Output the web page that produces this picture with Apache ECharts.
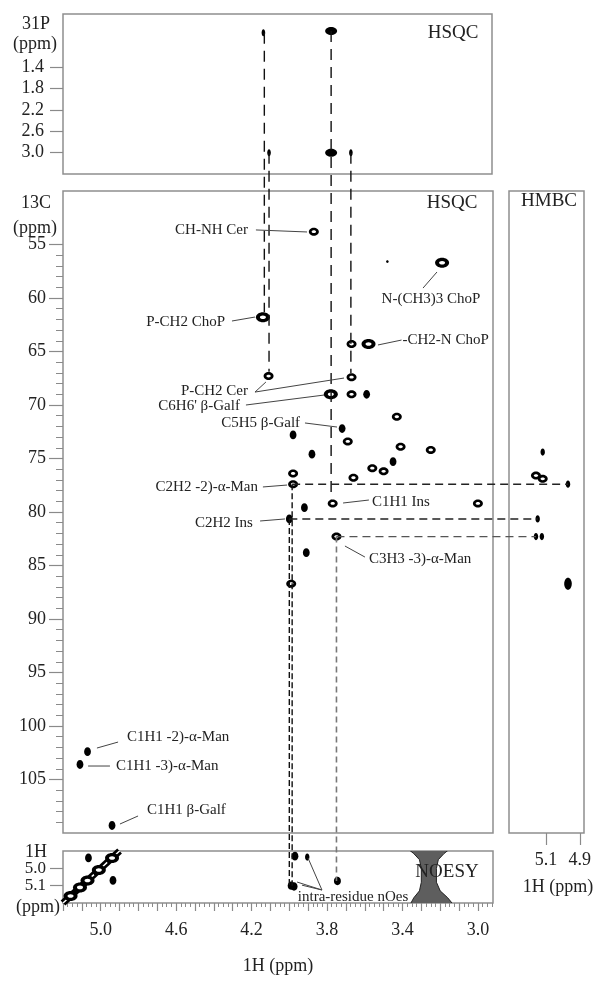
<!DOCTYPE html>
<html><head><meta charset="utf-8">
<script src="https://cdn.jsdelivr.net/npm/echarts@6/dist/echarts.min.js"></script>
<style>html,body{margin:0;padding:0;background:#fff}#c{width:593px;height:984px}</style>
</head><body><div id="c"></div>
<script>
// ---------------- DATA ----------------
const xTickLabels = [5.0, 4.6, 4.2, 3.8, 3.4, 3.0];
const pTickLabels = [1.4, 1.8, 2.2, 2.6, 3.0];
const cTickLabels = [55, 60, 65, 70, 75, 80, 85, 90, 95, 100, 105];
const noesyTickLabels = [5.0, 5.1];
const hmbcTickLabels = [5.1, 4.9];

// 31P HSQC peaks [1H, 31P]
const pPeaks = [[4.135, 0.75], [4.105, 3.0], [3.775, 0.72], [3.775, 3.0], [3.67, 3.0]];
// 13C HSQC peaks [1H, 13C]
const hsqcPeaks = [
  [3.87, 53.8], [3.19, 56.7], [3.48, 56.6], [4.14, 61.8], [3.67, 64.3], [3.58, 64.3],
  [4.11, 67.3], [3.67, 67.4], [3.78, 69.0], [3.67, 69.0], [3.59, 69.0], [3.43, 71.1],
  [3.72, 72.2], [3.98, 72.8], [3.69, 73.4], [3.88, 74.6], [3.41, 73.9], [3.25, 74.2],
  [3.56, 75.9], [3.50, 76.2], [3.45, 75.3], [3.66, 76.8], [3.98, 76.4], [3.98, 77.4],
  [3.92, 79.6], [3.77, 79.2], [3.00, 79.2], [4.00, 80.65], [3.75, 82.3], [3.91, 83.8],
  [3.99, 86.7], [5.07, 102.4], [5.11, 103.6], [4.94, 109.3]
];
// HMBC peaks [1H, 13C]
const hmbcPeaks = [[5.12, 74.4], [5.16, 76.6], [5.12, 76.9], [4.97, 77.4], [5.15, 80.65], [5.16, 82.3], [5.125, 82.3], [4.97, 86.7]];
// NOESY [1H, 1H]
const noesyDiagonal = [[5.2, 5.2], [4.9, 4.9]];
const noesyDiagPeaks = [[5.16, 5.16], [5.11, 5.11], [5.07, 5.07], [5.01, 5.01], [4.94, 4.94]];
const noesyCross = [[5.065, 4.94], [4.935, 5.07], [3.97, 4.93], [3.905, 4.935], [3.99, 5.10], [3.975, 5.105], [3.745, 5.073]];
const noesyNoise = [
  [3.38, 4.88], [3.34, 4.915], [3.31, 4.95], [3.30, 5.0], [3.30, 5.08], [3.31, 5.13], [3.34, 5.17], [3.36, 5.21],
  [3.13, 5.21], [3.16, 5.17], [3.20, 5.13], [3.22, 5.08], [3.22, 5.0], [3.21, 4.95], [3.18, 4.915], [3.14, 4.88]
];

// ---------------- STYLE ----------------
const FONT = '"Liberation Serif", "DejaVu Serif", serif';
const TICK = '#8a8a8a';
const BORDER = '#8e8e8e';
const pStyle = ['m', 'm', 'w', 'w', 'm'];
const hsqcStyle = ['r','b','t','b','r','b','r','r','b','r','d','r','d','d','r','d','r','r','r','r','d','r','r','r','d','r','r','d','r','d','r','d','d','d'];
const hmbcStyle = ['s','r','r','s','s','s','s','D'];
const crossStyle = ['d','d','d','s','q','q','q'];
const SHAPES = {
  r: {rx: 5, ry: 4, hole: [2.2, 1.4]},
  b: {rx: 7, ry: 5, hole: [3, 1.8]},
  d: {rx: 3.4, ry: 4.4},
  D: {rx: 3.8, ry: 6},
  w: {rx: 6, ry: 4},
  m: {rx: 1.8, ry: 3.5},
  s: {rx: 2.2, ry: 3.6},
  q: {rx: 3.5, ry: 4.2},
  t: {rx: 1.3, ry: 1.3}
};

function peakRenderer(styles) {
  return function (params, api) {
    const c = api.coord([api.value(0), api.value(1)]);
    const S = SHAPES[styles[params.dataIndex]] || SHAPES.r;
    const ch = [{type: 'ellipse', shape: {cx: c[0], cy: c[1], rx: S.rx, ry: S.ry}, style: {fill: '#000'}}];
    if (S.hole) ch.push({type: 'ellipse', shape: {cx: c[0], cy: c[1], rx: S.hole[0], ry: S.hole[1]}, style: {fill: '#fff'}});
    return {type: 'group', children: ch};
  };
}

const labelStyle = {fontFamily: FONT, fontSize: 18, color: '#222', hideOverlap: false};
const fmt1 = v => Number(v).toFixed(1);

// tick positions (axis decoration)
const majorX = []; for (let k = 30; k <= 52; k++) majorX.push(k / 10);
const minorX = []; for (let k = 117; k <= 208; k++) minorX.push(k * 0.025);
const minorC = []; for (let k = 55; k <= 109; k++) minorC.push(k);

const chart = echarts.init(document.getElementById('c'), null, {renderer: 'canvas', width: 593, height: 984});

const gridBase = {show: true, borderColor: BORDER, borderWidth: 1.5, backgroundColor: 'transparent', containLabel: false, outerBoundsMode: 'none'};
const option = {
  animation: false,
  backgroundColor: '#fff',
  grid: [
    Object.assign({left: 63, top: 14, width: 429, height: 160}, gridBase),
    Object.assign({left: 63, top: 191, width: 430, height: 642}, gridBase),
    Object.assign({left: 509, top: 191, width: 75, height: 642}, gridBase),
    Object.assign({left: 63, top: 851, width: 430, height: 52}, gridBase)
  ],
  xAxis: [
    {gridIndex: 0, type: 'value', min: 2.92, max: 5.2, inverse: true, show: false},
    {gridIndex: 1, type: 'value', min: 2.92, max: 5.2, inverse: true, show: false},
    {gridIndex: 2, type: 'value', min: 4.875, max: 5.32, inverse: true, position: 'bottom',
      axisLine: {show: false}, splitLine: {show: false},
      axisTick: {show: true, length: 12, customValues: hmbcTickLabels, lineStyle: {color: TICK, width: 1.2}},
      axisLabel: Object.assign({show: true, customValues: hmbcTickLabels, formatter: fmt1, margin: 18, showMinLabel: true, showMaxLabel: true}, labelStyle)},
    {gridIndex: 3, type: 'value', min: 2.92, max: 5.2, inverse: true, position: 'bottom',
      axisLine: {show: false}, splitLine: {show: false},
      axisTick: {show: true, length: 8, customValues: majorX, lineStyle: {color: TICK, width: 1.2}},
      axisLabel: Object.assign({show: true, customValues: xTickLabels, formatter: fmt1, margin: 18}, labelStyle)},
    {gridIndex: 3, type: 'value', min: 2.92, max: 5.2, inverse: true, position: 'bottom', offset: 0,
      axisLine: {show: false}, splitLine: {show: false}, axisLabel: {show: false},
      axisTick: {show: true, length: 4, customValues: minorX, lineStyle: {color: TICK, width: 1}}}
  ],
  yAxis: [
    {gridIndex: 0, type: 'value', min: 0.4, max: 3.4, inverse: true, position: 'left',
      axisLine: {show: false}, splitLine: {show: false},
      axisTick: {show: true, length: 13, customValues: pTickLabels, lineStyle: {color: TICK, width: 1.2}},
      axisLabel: Object.assign({show: true, customValues: pTickLabels, formatter: fmt1, margin: 19}, labelStyle)},
    {gridIndex: 1, type: 'value', min: 50, max: 110, inverse: true, position: 'left',
      axisLine: {show: false}, splitLine: {show: false},
      axisTick: {show: true, length: 14, customValues: cTickLabels, lineStyle: {color: TICK, width: 1.2}},
      axisLabel: Object.assign({show: true, customValues: cTickLabels, margin: 17}, labelStyle)},
    {gridIndex: 1, type: 'value', min: 50, max: 110, inverse: true, position: 'left', offset: 0,
      axisLine: {show: false}, splitLine: {show: false}, axisLabel: {show: false},
      axisTick: {show: true, length: 7, customValues: minorC, lineStyle: {color: TICK, width: 1}}},
    {gridIndex: 2, type: 'value', min: 50, max: 110, inverse: true, show: false},
    {gridIndex: 3, type: 'value', min: 4.9, max: 5.2, inverse: true, position: 'left',
      axisLine: {show: false}, splitLine: {show: false},
      axisTick: {show: true, length: 13, customValues: noesyTickLabels, lineStyle: {color: TICK, width: 1.2}},
      axisLabel: Object.assign({show: true, customValues: noesyTickLabels, formatter: fmt1, margin: 17, showMinLabel: true, showMaxLabel: true}, labelStyle, {fontSize: 17, lineHeight: 16})}
  ],
  series: [
    {type: 'custom', xAxisIndex: 0, yAxisIndex: 0, data: pPeaks, encode: {x: 0, y: 1}, renderItem: peakRenderer(pStyle), z: 5},
    {type: 'custom', xAxisIndex: 1, yAxisIndex: 1, data: hsqcPeaks, encode: {x: 0, y: 1}, renderItem: peakRenderer(hsqcStyle), z: 5},
    {type: 'custom', xAxisIndex: 2, yAxisIndex: 3, data: hmbcPeaks, encode: {x: 0, y: 1}, renderItem: peakRenderer(hmbcStyle), z: 5},
    {type: 'custom', xAxisIndex: 3, yAxisIndex: 4, data: [noesyNoise[0]], encode: {x: 0, y: 1}, clip: true, z: 2,
      renderItem: function (params, api) {
        const pts = noesyNoise.map(p => api.coord(p));
        return {type: 'polygon', shape: {points: pts}, style: {fill: '#5e5e5e', stroke: '#222', lineWidth: 1}};
      }},
    {type: 'line', xAxisIndex: 3, yAxisIndex: 4, data: noesyDiagonal, showSymbol: false, symbol: 'none', clip: true,
      lineStyle: {color: '#000', width: 7}, z: 3},
    {type: 'line', xAxisIndex: 3, yAxisIndex: 4, data: noesyDiagonal, showSymbol: false, symbol: 'none', clip: true,
      lineStyle: {color: '#fff', width: 1.5, type: [6, 3]}, z: 4},
    {type: 'custom', xAxisIndex: 3, yAxisIndex: 4, data: noesyDiagPeaks, encode: {x: 0, y: 1}, clip: true, z: 5,
      renderItem: peakRenderer(['b','b','b','b','b'])},
    {type: 'custom', xAxisIndex: 3, yAxisIndex: 4, data: noesyCross, encode: {x: 0, y: 1}, clip: true, z: 5,
      renderItem: peakRenderer(crossStyle)}
  ]
};
chart.setOption(option);

// ---------------- ANNOTATIONS ----------------
const AX = {p: {xAxisIndex: 0, yAxisIndex: 0}, c: {xAxisIndex: 1, yAxisIndex: 1}, h: {xAxisIndex: 2, yAxisIndex: 3}, n: {xAxisIndex: 3, yAxisIndex: 4}};
const toPx = (panel, x, y) => chart.convertToPixel(AX[panel], [x, y]);

const notes = [
  {panel: 'c', t: 'CH-NH Cer', at: [4.219, 53.64], a: 'right', lines: [[4.177, 53.64, 3.906, 53.83]]},
  {panel: 'c', t: 'P-CH2 ChoP', at: [4.341, 62.24], a: 'right', lines: [[4.304, 62.15, 4.182, 61.78]]},
  {panel: 'c', t: 'P-CH2 Cer', at: [4.219, 68.69], a: 'right', lines: [[4.182, 68.79, 4.124, 67.85], [4.182, 68.79, 3.710, 67.48]]},
  {panel: 'c', t: "C6H6' β-Galf", at: [4.262, 70.09], a: 'right', lines: [[4.230, 70.0, 3.816, 69.07]]},
  {panel: 'c', t: 'C5H5 β-Galf', at: [3.943, 71.68], a: 'right', lines: [[3.917, 71.68, 3.747, 72.06]]},
  {panel: 'c', t: 'N-(CH3)3 ChoP', at: [3.249, 60.09], a: 'center', lines: [[3.291, 59.07, 3.217, 57.57]]},
  {panel: 'c', t: '-CH2-N ChoP', at: [3.40, 63.93], a: 'left', lines: [[3.530, 64.39, 3.405, 63.93]]},
  {panel: 'c', t: 'C2H2 -2)-α-Man', at: [4.166, 77.66], a: 'right', lines: [[4.140, 77.66, 4.012, 77.48]]},
  {panel: 'c', t: 'C1H1 Ins', at: [3.562, 79.07], a: 'left', lines: [[3.715, 79.16, 3.578, 78.88]]},
  {panel: 'c', t: 'C2H2 Ins', at: [4.193, 81.03], a: 'right', lines: [[4.155, 80.84, 4.023, 80.65]]},
  {panel: 'c', t: 'C3H3 -3)-α-Man', at: [3.578, 84.39], a: 'left', lines: [[3.705, 83.18, 3.599, 84.21]]},
  {panel: 'c', t: 'C1H1 -2)-α-Man', at: [4.861, 101.03], a: 'left', lines: [[5.020, 102.06, 4.908, 101.50]]},
  {panel: 'c', t: 'C1H1 -3)-α-Man', at: [4.919, 103.74], a: 'left', lines: [[5.067, 103.74, 4.951, 103.74]]},
  {panel: 'c', t: 'C1H1 β-Galf', at: [4.755, 107.85], a: 'left', lines: [[4.898, 109.16, 4.802, 108.41]]},
  {panel: 'n', t: 'intra-residue nOes', at: [3.662, 5.166], a: 'center', lines: [[3.827, 5.125, 3.959, 5.079], [3.827, 5.125, 3.933, 5.097], [3.827, 5.125, 3.901, 4.94]]}
];

// dashed correlation lines
const vLinks = [
  {x: 4.13, from: ['p', 0.75], to: ['c', 61.3], s: 'long'},
  {x: 4.105, from: ['p', 3.0], to: ['c', 66.9], s: 'long'},
  {x: 3.775, from: ['p', 0.72], to: ['c', 78.8], s: 'long'},
  {x: 3.67, from: ['p', 3.0], to: ['c', 67.0], s: 'long'},
  {x: 3.75, from: ['c', 82.3], to: ['n', 5.073], s: 'grey'},
  {x: 3.985, from: ['c', 77.4], to: ['n', 5.10], s: 'short'},
  {x: 4.0, from: ['c', 80.65], to: ['n', 5.10], s: 'short'}
];
const hLinks = [
  {y: 77.4, from: ['c', 3.985], to: ['h', 4.97], s: 'h'},
  {y: 80.65, from: ['c', 4.0], to: ['h', 5.15], s: 'h'},
  {y: 82.3, from: ['c', 3.75], to: ['h', 5.16], s: 'hg'}
];
const LINKSTYLE = {
  long: {stroke: '#111', lineWidth: 1.4, lineDash: [11, 7]},
  grey: {stroke: '#777', lineWidth: 1.6, lineDash: [6, 4]},
  short: {stroke: '#111', lineWidth: 1.4, lineDash: [6, 3]},
  h: {stroke: '#222', lineWidth: 1.4, lineDash: [8, 5]},
  hg: {stroke: '#555', lineWidth: 1.4, lineDash: [8, 5]}
};

const g = [];
vLinks.forEach(l => {
  const a = toPx(l.from[0], l.x, l.from[1]);
  const b = toPx(l.to[0], l.x, l.to[1]);
  g.push({type: 'line', silent: true, z: 20, shape: {x1: a[0], y1: a[1], x2: a[0], y2: b[1]}, style: LINKSTYLE[l.s]});
});
hLinks.forEach(l => {
  const a = toPx(l.from[0], l.from[1], l.y);
  const b = toPx(l.to[0], l.to[1], l.y);
  g.push({type: 'line', silent: true, z: 20, shape: {x1: a[0], y1: a[1], x2: b[0], y2: a[1]}, style: LINKSTYLE[l.s]});
});
notes.forEach(n => {
  const p = toPx(n.panel, n.at[0], n.at[1]);
  g.push({type: 'text', silent: true, z: 30, x: p[0], y: p[1],
    style: {text: n.t, font: '15px ' + FONT, fill: '#222', align: n.a, verticalAlign: 'middle'}});
  n.lines.forEach(L => {
    const a = toPx(n.panel, L[0], L[1]);
    const b = toPx(n.panel, L[2], L[3]);
    g.push({type: 'line', silent: true, z: 25, shape: {x1: a[0], y1: a[1], x2: b[0], y2: b[1]}, style: {stroke: '#444', lineWidth: 1}});
  });
});

// fixed texts: panel titles and axis names
const texts = [
  ['HSQC', 453, 33, 19, 'center'], ['HSQC', 452, 203, 19, 'center'], ['HMBC', 549, 201, 19, 'center'], ['NOESY', 447, 872, 19, 'center'],
  ['31P', 36, 24, 18, 'center'], ['(ppm)', 35, 44, 18, 'center'],
  ['13C', 36, 203, 18, 'center'], ['(ppm)', 35, 228, 18, 'center'],
  ['1H', 36, 852, 18, 'center'], ['(ppm)', 38, 907, 18, 'center'],
  ['1H (ppm)', 278, 966, 18, 'center'], ['1H (ppm)', 558, 887, 18, 'center']
];
texts.forEach(t => g.push({type: 'text', silent: true, z: 30, x: t[1], y: t[2],
  style: {text: t[0], font: t[3] + 'px ' + FONT, fill: '#222', align: t[4], verticalAlign: 'middle'}}));

chart.setOption({graphic: g});
</script>
</body></html>
